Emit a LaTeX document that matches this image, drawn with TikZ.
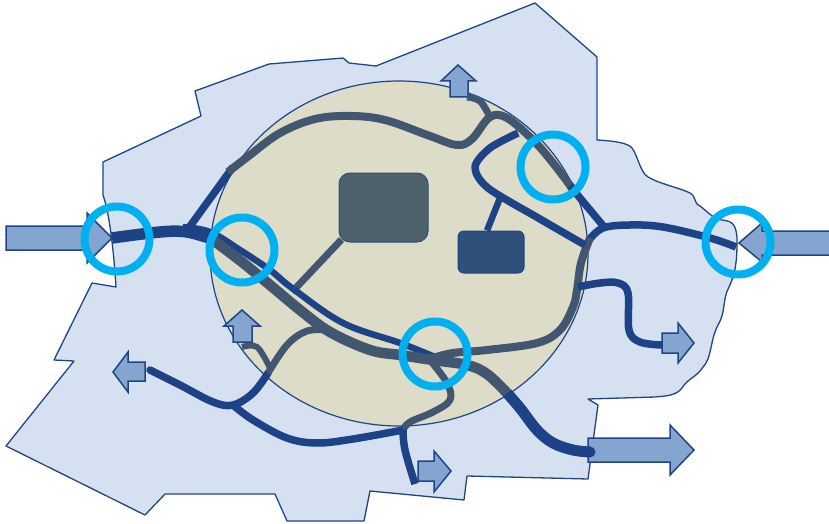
\documentclass[tikz,border=0pt]{standalone}
\usepackage{tikz}
\definecolor{ZonePale}{HTML}{D5E1F0}
\definecolor{ZoneLine}{HTML}{1F4587}
\definecolor{CoreFill}{HTML}{DCDCC8}
\definecolor{RouteBlue}{HTML}{1D4286}
\definecolor{RouteGrey}{HTML}{43566F}
\definecolor{RingCyan}{HTML}{00B0F0}
\definecolor{ArrowFill}{HTML}{84A5D0}
\definecolor{BoxGrey}{HTML}{4E6069}
\definecolor{BoxBlue}{HTML}{2F5078}

\begin{document}
\begin{tikzpicture}[x=1pt,y=-1pt]
  \tikzstyle{zone}=[draw=ZoneLine,fill=ZonePale,line width=1.3pt,line join=round]
  \tikzstyle{core}=[draw=ZoneLine,fill=CoreFill,line width=1.2pt]
  \tikzstyle{flow}=[draw=ZoneLine,fill=ArrowFill,line width=1.5pt,line join=miter]
  \tikzstyle{bluert}=[draw=RouteBlue,line width=7.5pt,line join=round]
  \tikzstyle{greyrt}=[draw=RouteGrey,line width=8pt,line join=round]
  \tikzstyle{ring}=[draw=RingCyan,line width=8pt,circle,minimum size=65pt,inner sep=0pt]
  \useasboundingbox (0,0) rectangle (829,524);
  \path[zone] (535,3)--(597,57)--(597,140) .. controls (615,141) and (628,143) .. (632,148)
    .. controls (638,156) and (640,172) .. (648,177) .. controls (660,184) and (680,188) .. (690,193)
    .. controls (697,197) and (693,203) .. (700,206) .. controls (708,212) and (712,218) .. (722,220)
    .. controls (733,221) and (736,225) .. (737,238) .. controls (737,255) and (737,270) .. (729,287)
    .. controls (722,300) and (726,312) .. (718,325) .. controls (710,340) and (712,358) .. (703,367)
    .. controls (696,378) and (688,378) .. (682,388) .. controls (676,396) and (665,396) .. (655,397)
    --(588,399)--(598,405)--(588,479)--(467,476)--(464,500)--(370,491)--(364,521)--(287,521)
    --(275,494)--(165,494)--(145,515)--(6,446)--(74,361)--(54,360)--(92,283)--(116,287)
    .. controls (114,255) and (110,215) .. (103,195)--(103,162)--(201,116)--(195,91)
    --(269,64)--(343,58)--(349,63)--(376,66)--cycle;
  \path[core] (399,253.5) ellipse [x radius=189,y radius=172.5];
  \path[flow] (6,226)--(87,226)--(87,213)--(112,238)--(87,263)--(87,250)--(6,250)--cycle;
  \path[flow] (829,231)--(762,231)--(762,223)--(739,243)--(762,262)--(762,255)--(829,255);
  \path[flow] (450,97)--(450,81)--(441,81)--(458,65)--(476,81)--(468,81)--(468,97)--cycle;
  \path[flow] (233,342)--(233,326)--(224,326)--(242,310)--(260,326)--(252,326)--(252,342)--cycle;
  \path[flow] (145,362)--(128,362)--(128,352)--(113,372)--(128,392)--(128,381)--(145,381)--cycle;
  \path[flow] (662,333)--(678,333)--(678,323)--(694,343)--(678,363)--(678,353)--(662,353)--cycle;
  \path[flow] (418,461)--(434,461)--(434,451)--(451,471)--(434,492)--(434,481)--(418,481)--cycle;
  \path[flow] (588,438)--(670,438)--(670,425)--(694,450)--(670,475)--(670,462)--(588,462)--cycle;
  \node[draw=ZoneLine!70!BoxGrey,fill=BoxGrey,line width=1pt,rounded corners=11pt,
    minimum width=89pt,minimum height=69pt,inner sep=0pt] (boxgrey) at (383.5,207.5) {};
  \node[draw=ZoneLine,fill=BoxBlue,line width=1pt,rounded corners=6pt,
    minimum width=66pt,minimum height=42pt,inner sep=0pt] (boxblue) at (491,252) {};
  \coordinate (greyfork) at (292,292);
  \coordinate (bluefork) at (500,198);
  \draw[greyrt,line width=7pt] (boxgrey.south west)++(3,-3)--(greyfork);
  \draw[bluert,line width=6.5pt] (boxblue.north)++(-4,0)--(bluefork);
  \draw[bluert,line width=11.5pt] plot[smooth,tension=0.6] coordinates
    {(112,238) (160,232) (187,232) (215,240)};
  \draw[bluert,line width=6.5pt] plot[smooth,tension=0.6] coordinates
    {(183,227) (210,232) (240,250) (270,270) (292,288) (343,323) (400,343) (435,357)};
  \draw[bluert] (188,229)--(233,167);
  \draw[greyrt,line width=10.5pt] plot[smooth,tension=0.6] coordinates
    {(213,240) (242,262) (270,285) (300,310) (330,332) (370,350) (400,355) (433,360) (467,365) (487,374) (507,393)};
  \draw[bluert,line width=11pt] plot[smooth,tension=0.6] coordinates
    {(507,393) (520,408) (537,430) (553,443) (573,450) (590,452)};
  \fill[RouteBlue] (590,452) circle (5.5pt);
  \draw[greyrt] plot[smooth,tension=0.6] coordinates
    {(228,172) (250,155) (280,133) (315,119) (350,116) (385,120) (430,136) (457,145) (472,139) (490,117) (507,118) (533,140) (553,163) (572,188)};
  \draw[greyrt,line width=7pt] plot[smooth,tension=0.6] coordinates {(490,117) (480,101) (467,97)};
  \draw[bluert] (570,186)--(605,228);
  \draw[bluert] plot[smooth,tension=0.6] coordinates
    {(736,247) (710,238) (663,227) (630,225) (603,228) (589,240)};
  \draw[greyrt] plot[smooth,tension=0.6] coordinates
    {(590,238) (581,263) (577,290) (573,307) (560,330) (537,343) (487,350) (453,353) (433,358)};
  \draw[bluert] plot[smooth,tension=0.5] coordinates
    {(518,133) (490,148) (475,167) (488,188) (540,219) (585,245)};
  \draw[bluert] plot[smooth,tension=0.6] coordinates
    {(578,287) (600,283) (618,283) (628,293) (629,330) (640,342) (662,345)};
  \draw[greyrt,line width=7pt] plot[smooth,tension=0.6] coordinates
    {(430,360) (447,383) (450,400) (433,412) (410,422) (403,430)};
  \draw[bluert] plot[smooth,tension=0.6] coordinates
    {(403,430) (405,450) (415,484)};
  \draw[bluert] plot[smooth,tension=0.6] coordinates
    {(403,430) (353,439) (317,443) (287,438) (253,420) (233,405)};
  \draw[bluert,line cap=round] plot[smooth,tension=0.6] coordinates
    {(150,370) (180,385) (213,402) (233,405) (253,393) (268,373)};
  \draw[greyrt,line width=7pt] plot[smooth,tension=0.6] coordinates
    {(268,373) (287,345) (307,331) (330,330)};
  \draw[greyrt,line width=6pt] plot[smooth,tension=0.6] coordinates
    {(242,347) (257,347) (270,368)};
  \node[ring] (ringwest) at (117,239) {};
  \node[ring] (ringcore) at (242,250) {};
  \node[ring] (ringnorth) at (553,167) {};
  \node[ring] (ringsouth) at (435,354) {};
  \node[ring] (ringeast) at (738,242) {};
\end{tikzpicture}
\end{document}
